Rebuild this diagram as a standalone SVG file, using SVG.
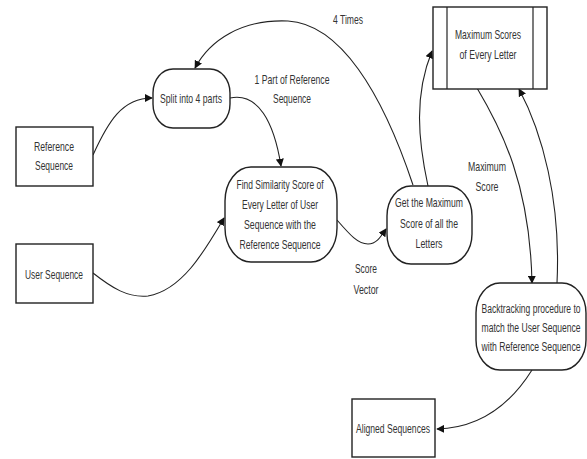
<svg xmlns="http://www.w3.org/2000/svg" width="587" height="459" viewBox="0 0 587 459">
<style>
.n{fill:#fff;stroke:#222;stroke-width:1.4}
.t{font-family:"Liberation Sans",Arial,sans-serif;font-size:13.5px;fill:#333;text-anchor:middle}
.c{fill:none;stroke:#222;stroke-width:1.1;marker-end:url(#ah)}
</style>
<defs>
<marker id="ah" viewBox="0 0 10 10" refX="9" refY="5" markerWidth="8" markerHeight="8" markerUnits="userSpaceOnUse" orient="auto">
<path d="M0,0 L10,5 L0,10 Z" fill="#111"/>
</marker>
</defs>
<rect width="587" height="459" fill="#fff"/>

<g id="connectors">
<path class="c" d="M93,155 C108,122 122,98 152,98"/>
<path class="c" d="M230,98 C258,92 274,122 281,166"/>
<path class="c" d="M93,273 C112,288 128,298 148,296 C182,290 204,252 224,218"/>
<path class="c" d="M337,220 C350,235 358,244 368,244 C376,244 380,238 386,229"/>
<path class="c" d="M413,185 C382,92 340,24 288,21 C242,19 210,40 195,68"/>
<path class="c" d="M428,186 C418,140 414,95 432,51"/>
<path class="c" d="M477,88 C502,130 530,185 532,283"/>
<path class="c" d="M557,283 C561,200 542,132 519,89"/>
<path class="c" d="M532,370 C510,405 480,428 437,429"/>
</g>

<g id="reference-sequence">
<rect class="n" x="16" y="127" width="77" height="59"/>
<text class="t" x="54" y="151" textLength="40" lengthAdjust="spacingAndGlyphs">Reference</text>
<text class="t" x="54" y="170" textLength="38" lengthAdjust="spacingAndGlyphs">Sequence</text>
</g>

<g id="user-sequence">
<rect class="n" x="16" y="244" width="77" height="59"/>
<text class="t" x="54" y="279" textLength="58" lengthAdjust="spacingAndGlyphs">User Sequence</text>
</g>

<g id="split">
<rect class="n" x="153" y="69" width="77" height="59" rx="20" ry="24"/>
<text class="t" x="191" y="103" textLength="62" lengthAdjust="spacingAndGlyphs">Split into 4 parts</text>
</g>

<g id="find-similarity">
<rect class="n" x="225" y="167" width="112" height="95" rx="26" ry="34"/>
<text class="t" x="280" y="189" textLength="87" lengthAdjust="spacingAndGlyphs">Find Similarity Score of</text>
<text class="t" x="280" y="209" textLength="76" lengthAdjust="spacingAndGlyphs">Every Letter of User</text>
<text class="t" x="280" y="229" textLength="72" lengthAdjust="spacingAndGlyphs">Sequence with the</text>
<text class="t" x="280" y="249" textLength="81" lengthAdjust="spacingAndGlyphs">Reference Sequence</text>
</g>

<g id="get-maximum">
<rect class="n" x="387" y="186" width="85" height="78" rx="24" ry="30"/>
<text class="t" x="429" y="207" textLength="68" lengthAdjust="spacingAndGlyphs">Get the Maximum</text>
<text class="t" x="429" y="228" textLength="58" lengthAdjust="spacingAndGlyphs">Score of all the</text>
<text class="t" x="429" y="248" textLength="27" lengthAdjust="spacingAndGlyphs">Letters</text>
</g>

<g id="maximum-scores">
<rect class="n" x="433" y="7" width="114" height="82"/>
<line x1="447" y1="7" x2="447" y2="89" stroke="#222" stroke-width="1.2"/>
<line x1="533" y1="7" x2="533" y2="89" stroke="#222" stroke-width="1.2"/>
<text class="t" x="488" y="39" textLength="66" lengthAdjust="spacingAndGlyphs">Maximum Scores</text>
<text class="t" x="488" y="59" textLength="57" lengthAdjust="spacingAndGlyphs">of Every Letter</text>
</g>

<g id="backtracking">
<rect class="n" x="476" y="283" width="110" height="87" rx="24" ry="30"/>
<text class="t" transform="translate(531,313) scale(0.6,1)" x="0" y="0" textLength="165" lengthAdjust="spacingAndGlyphs">Backtracking procedure to</text>
<text class="t" transform="translate(531,332) scale(0.6,1)" x="0" y="0" textLength="165" lengthAdjust="spacingAndGlyphs">match the User Sequence</text>
<text class="t" transform="translate(531,351) scale(0.6,1)" x="0" y="0" textLength="165" lengthAdjust="spacingAndGlyphs">with Reference Sequence</text>
</g>

<g id="aligned-sequences">
<rect class="n" x="352" y="399" width="83" height="58"/>
<text class="t" x="393" y="433" textLength="74" lengthAdjust="spacingAndGlyphs">Aligned Sequences</text>
</g>

<g id="labels">
<text class="t" x="348" y="24" textLength="30" lengthAdjust="spacingAndGlyphs">4 Times</text>
<text class="t" x="292" y="84" textLength="75" lengthAdjust="spacingAndGlyphs">1 Part of Reference</text>
<text class="t" x="292" y="103" textLength="38" lengthAdjust="spacingAndGlyphs">Sequence</text>
<text class="t" x="487" y="171" textLength="38" lengthAdjust="spacingAndGlyphs">Maximum</text>
<text class="t" x="487" y="191" textLength="23" lengthAdjust="spacingAndGlyphs">Score</text>
<text class="t" x="366" y="273" textLength="22" lengthAdjust="spacingAndGlyphs">Score</text>
<text class="t" x="366" y="294" textLength="25" lengthAdjust="spacingAndGlyphs">Vector</text>
</g>
</svg>
